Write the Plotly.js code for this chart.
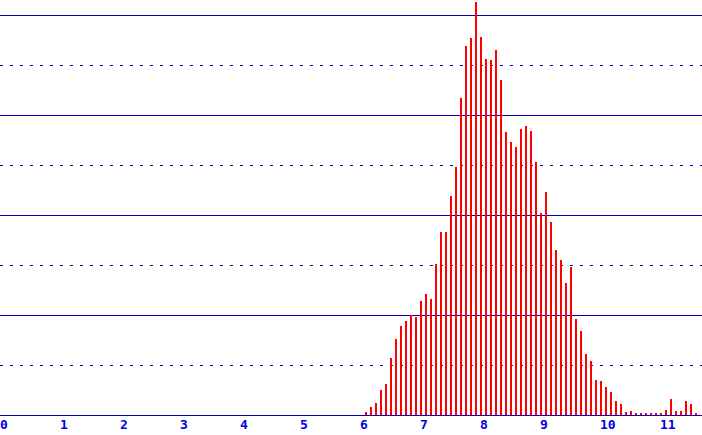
<!DOCTYPE html>
<html>
<head>
<meta charset="utf-8">
<script src="https://cdn.plot.ly/plotly-3.0.1.min.js"></script>
<style>
  html, body { margin: 0; padding: 0; background: #ffffff; }
  #graph { width: 702px; height: 435px; }
</style>
</head>
<body>
<div id="graph"></div>
<script>
// histogram bins: first bin centre and bin width (1/12 of a unit)
const binStart = 6.1;
const binWidth = 1 / 12;

// bar heights, one per bin
const counts = [
  3, 8, 12, 25, 31, 57, 76, 89, 94, 100,
  98, 114, 121, 116, 151, 183, 183, 219, 248, 317,
  369, 377, 413, 378, 356, 355, 365, 335, 283, 273,
  268, 286, 289, 284, 253, 202, 223, 193, 165, 155,
  132, 148, 96, 84, 61, 54, 35, 34, 28, 23,
  14, 11, 3, 4, 2, 2, 2, 2, 2, 2,
  5, 16, 4, 4, 14, 11, 2
];

// x tick values and labels
const tickVals = [0, 1, 2, 3, 4, 5, 6, 7, 8, 9, 10, 11];
const tickText = ['0', '1', '2', '3', '4', '5', '6', '7', '8', '9', '10', '11'];

const lineBlue = '#0000cc';
const labelBlue = '#0000e6';

const bars = {
    type: 'bar',
    x0: binStart,
    dx: binWidth,
    y: counts,
    width: 2 / 60,
    marker: {
        color: '#ff0000',
        line: {width: 0}
    },
    hoverinfo: 'x+y'
};

const layout = {
    width: 702,
    height: 435,
    margin: {l: 0, r: 0, t: 0, b: 20, pad: 0},
    paper_bgcolor: '#ffffff',
    plot_bgcolor: '#ffffff',
    showlegend: false,
    bargap: 0,
    xaxis: {
        range: [0, 11.7],
        tickvals: tickVals,
        ticktext: tickText,
        ticks: '',
        showgrid: false,
        zeroline: false,
        showline: false,
        ticklabelposition: 'outside right',
        tickfont: {family: 'DejaVu Sans Mono', size: 13, color: labelBlue, weight: 'bold'}
    },
    yaxis: {
        range: [0, 415],
        dtick: 100,
        tick0: 0,
        showticklabels: false,
        ticks: '',
        showgrid: true,
        gridcolor: lineBlue,
        gridwidth: 1,
        zeroline: true,
        zerolinecolor: lineBlue,
        zerolinewidth: 1,
        minor: {
            dtick: 50,
            showgrid: true,
            gridcolor: lineBlue,
            gridwidth: 1,
            griddash: '3px,7px'
        }
    }
};

Plotly.newPlot('graph', [bars], layout, {displayModeBar: false, staticPlot: true});
</script>
</body>
</html>
